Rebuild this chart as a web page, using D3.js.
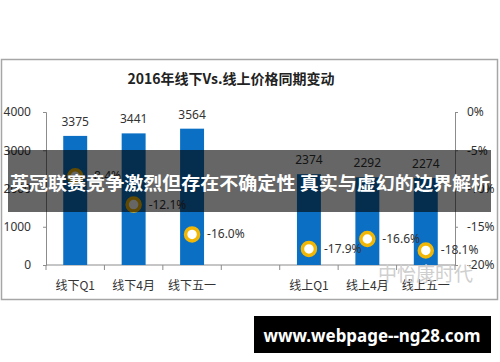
<!DOCTYPE html>
<html>
<head>
<meta charset="utf-8">
<script src="https://cdn.jsdelivr.net/npm/d3@7"></script>
<style>
  body { margin: 0; background: #fff; }
  svg { display: block; font-family: "Noto Sans CJK SC", "Noto Sans", sans-serif; }
</style>
</head>
<body>
<div id="chart"></div>
<script>
//data
var categories = ["线下Q1", "线下4月", "线下五一", "", "线上Q1", "线上4月", "线上五一"];
var sales = [3375, 3441, 3564, null, 2374, 2292, 2274];
var change = [-8.4, -12.1, -16.0, null, -17.9, -16.6, -18.1];
var leftTicks = [0, 1000, 2000, 3000, 4000];
var rightTicks = [0, -5, -10, -15, -20];

var width = 500, height = 362;

var svg = d3.select("#chart").append("svg")
    .attr("width", width)
    .attr("height", height);

//chart frame
svg.append("rect")
    .attr("x", 1.5).attr("y", 59.5)
    .attr("width", 496).attr("height", 240)
    .attr("fill", "#fff")
    .attr("stroke", "#a6a6a6")
    .attr("stroke-width", 1.5);

svg.append("text")
    .attr("x", 231).attr("y", 84)
    .attr("text-anchor", "middle")
    .attr("font-size", 14)
    .attr("font-weight", "bold")
    .attr("fill", "#222")
    .text("2016年线下Vs.线上价格同期变动");

//scales
var x = d3.scaleBand()
    .domain(categories)
    .range([46, 455])
    .paddingInner(0.59)
    .paddingOuter(0.295);

var yL = d3.scaleLinear().domain([0, 4000]).range([265, 112]);
var yR = d3.scaleLinear().domain([-20, 0]).range([265, 112]);

//left axis
var gL = svg.append("g")
    .attr("transform", "translate(46,0)")
    .call(d3.axisLeft(yL).tickValues(leftTicks).tickSize(3).tickPadding(12).tickFormat(d3.format("d")));
gL.select(".domain").attr("stroke", "#8c8c8c");
gL.selectAll(".tick line").attr("stroke", "#8c8c8c");
gL.selectAll("text").attr("font-size", 12).attr("fill", "#333").attr("font-family", "Noto Sans, sans-serif");

//right axis
var gR = svg.append("g")
    .attr("transform", "translate(455,0)")
    .call(d3.axisRight(yR).tickValues(rightTicks).tickSize(3).tickPadding(9).tickFormat(function (d) { return d + "%"; }));
gR.select(".domain").attr("stroke", "#8c8c8c");
gR.selectAll(".tick line").attr("stroke", "#8c8c8c");
gR.selectAll("text").attr("font-size", 12).attr("fill", "#333").attr("font-family", "Noto Sans, sans-serif");

//category axis
svg.append("line")
    .attr("x1", 46).attr("x2", 455)
    .attr("y1", yL(0)).attr("y2", yL(0))
    .attr("stroke", "#8c8c8c");

svg.selectAll(".xtick")
    .data(d3.range(categories.length + 1))
    .enter().append("line")
    .attr("class", "xtick")
    .attr("x1", function (i) { return x.range()[0] + i * x.step(); })
    .attr("x2", function (i) { return x.range()[0] + i * x.step(); })
    .attr("y1", yL(0)).attr("y2", yL(0) + 5)
    .attr("stroke", "#8c8c8c");

svg.selectAll(".xlabel")
    .data(categories)
    .enter().append("text")
    .attr("class", "xlabel")
    .attr("x", function (d) { return x(d) + x.bandwidth() / 2; })
    .attr("y", 290)
    .attr("text-anchor", "middle")
    .attr("font-size", 12)
    .attr("fill", "#333")
    .text(function (d) { return d; });

//bars
var barData = categories.map(function (c, i) { return { c: c, v: sales[i], p: change[i] }; })
    .filter(function (d) { return d.v != null; });

svg.selectAll(".bar")
    .data(barData)
    .enter().append("rect")
    .attr("class", "bar")
    .attr("x", function (d) { return x(d.c); })
    .attr("y", function (d) { return yL(d.v); })
    .attr("width", x.bandwidth())
    .attr("height", function (d) { return yL(0) - yL(d.v); })
    .attr("fill", "#0b70c4");

svg.selectAll(".barlabel")
    .data(barData)
    .enter().append("text")
    .attr("class", "barlabel")
    .attr("x", function (d) { return x(d.c) + x.bandwidth() / 2; })
    .attr("y", function (d) { return yL(d.v) - 10; })
    .attr("text-anchor", "middle")
    .attr("font-size", 12)
    .attr("fill", "#333")
    .attr("font-family", "Noto Sans, sans-serif")
    .text(function (d) { return d.v; });

//percentage markers
svg.selectAll(".dot")
    .data(barData)
    .enter().append("circle")
    .attr("class", "dot")
    .attr("cx", function (d) { return x(d.c) + x.bandwidth() / 2; })
    .attr("cy", function (d) { return yR(d.p); })
    .attr("r", 6.5)
    .attr("fill", "#fff")
    .attr("stroke", "#f2b705")
    .attr("stroke-width", 3.5);

svg.selectAll(".dotlabel")
    .data(barData)
    .enter().append("text")
    .attr("class", "dotlabel")
    .attr("x", function (d) { return x(d.c) + x.bandwidth() / 2 + 15; })
    .attr("y", function (d) { return yR(d.p) + 4; })
    .attr("font-size", 12)
    .attr("fill", "#333")
    .attr("font-family", "Noto Sans, sans-serif")
    .text(function (d) { return d.p.toFixed(1) + "%"; });

//watermark
svg.append("text")
    .attr("x", 378).attr("y", 281)
    .attr("font-size", 19)
    .attr("fill", "#cfcfcf")
    .text("中怡康时代");

//dark banner overlay
svg.append("rect")
    .attr("x", 8).attr("y", 150)
    .attr("width", 483).attr("height", 62)
    .attr("fill", "#000")
    .attr("fill-opacity", 0.6);

svg.append("text")
    .attr("x", 10).attr("y", 190)
    .attr("font-size", 18)
    .attr("font-weight", "bold")
    .attr("fill", "#fff")
    .attr("textLength", 480)
    .attr("lengthAdjust", "spacingAndGlyphs")
    .text("英冠联赛竞争激烈但存在不确定性 真实与虚幻的边界解析");

//url box
svg.append("rect")
    .attr("x", 254).attr("y", 316)
    .attr("width", 237).attr("height", 37)
    .attr("fill", "#000");

svg.append("text")
    .attr("x", 372).attr("y", 342)
    .attr("text-anchor", "middle")
    .attr("font-size", 18)
    .attr("font-weight", "bold")
    .attr("fill", "#fff")
    .attr("font-family", "Noto Sans, sans-serif")
    .attr("textLength", 217)
    .attr("lengthAdjust", "spacingAndGlyphs")
    .text("www.webpage--ng28.com");
</script>
</body>
</html>
